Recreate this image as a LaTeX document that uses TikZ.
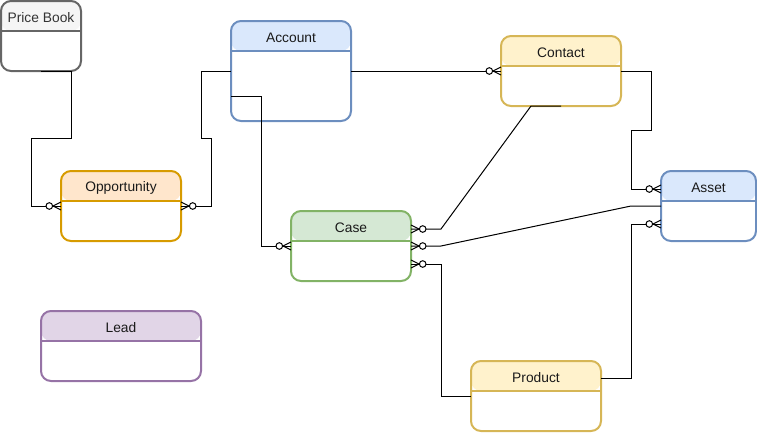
\documentclass[tikz,border=0pt]{standalone}
\usepackage{fontspec}
\setmainfont{Liberation Sans}
\usetikzlibrary{calc}

% entity colour schemes: header fill and outline
\definecolor{grayfill}{HTML}{F5F5F5}   \definecolor{grayline}{HTML}{666666}
\definecolor{orangefill}{HTML}{FFE6CC} \definecolor{orangeline}{HTML}{D79B00}
\definecolor{bluefill}{HTML}{DAE8FC}   \definecolor{blueline}{HTML}{6C8EBF}
\definecolor{yellowfill}{HTML}{FFF2CC} \definecolor{yellowline}{HTML}{D6B656}
\definecolor{greenfill}{HTML}{D5E8D4}  \definecolor{greenline}{HTML}{82B366}
\definecolor{purplefill}{HTML}{E1D5E7} \definecolor{purpleline}{HTML}{9673A6}
\definecolor{titletext}{HTML}{1A1A1A}
\definecolor{graytext}{HTML}{333333}

\tikzset{
  entity/.style={draw=#1line, fill=white, line width=2pt, rounded corners=10pt,
    inner sep=0pt, outer sep=0pt, anchor=north west,
    path picture={
      \fill[#1fill] (path picture bounding box.north west) rectangle
        ([yshift=-30pt]path picture bounding box.north east);
      \draw[#1line, line width=2pt]
        ([yshift=-30pt]path picture bounding box.north west) --
        ([yshift=-30pt]path picture bounding box.north east);
    }},
  etitle/.style={font=\fontsize{13.8pt}{16pt}\selectfont, text=titletext, inner sep=0pt},
  conn/.style={draw=black, line width=1pt},
  % zero-or-many crow's foot, the line arriving from the -x side
  zmany/.pic={
    \draw[line width=1pt] (-8,0) -- (0,4) (-8,0) -- (0,-4);
    \draw[line width=1pt, fill=white] (-11.7,0) circle (3.3);
  }
}

\begin{document}
\begin{tikzpicture}[x=1pt, y=-1pt]
\useasboundingbox (0,0) rectangle (757,432);

% entities
\node[entity=gray,   minimum width=80pt,  minimum height=70pt]  (pb)   at (1,1)     {};
\node[entity=orange, minimum width=120pt, minimum height=70pt]  (opp)  at (61,171)  {};
\node[entity=blue,   minimum width=120pt, minimum height=100pt] (acc)  at (231,21)  {};
\node[entity=yellow, minimum width=120pt, minimum height=70pt]  (con)  at (501,36)  {};
\node[entity=blue,   minimum width=95pt,  minimum height=70pt]  (ast)  at (661,171) {};
\node[entity=green,  minimum width=120pt, minimum height=70pt]  (case) at (291,211) {};
\node[entity=purple, minimum width=160pt, minimum height=70pt]  (lead) at (41,311)  {};
\node[entity=yellow, minimum width=130pt, minimum height=70pt]  (prod) at (471,361) {};

% entity titles
\node[etitle, text=graytext] (pb-t) at ([yshift=-16.5pt]pb.north) {Price Book};
\node[etitle] (opp-t)  at ([yshift=-16.5pt]opp.north)  {Opportunity};
\node[etitle] (acc-t)  at ([yshift=-16.5pt]acc.north)  {Account};
\node[etitle] (con-t)  at ([yshift=-16.5pt]con.north)  {Contact};
\node[etitle] (ast-t)  at ([yshift=-16.5pt]ast.north)  {Asset};
\node[etitle] (case-t) at ([yshift=-16.5pt]case.north) {Case};
\node[etitle] (lead-t) at ([yshift=-16.5pt]lead.north) {Lead};
\node[etitle] (prod-t) at ([yshift=-16.5pt]prod.north) {Product};

% side attachment points
\coordinate (acc-b)  at ($(acc.west)+(0,25)$);
\coordinate (case-a) at ($(case.east)+(0,-17)$);
\coordinate (case-c) at ($(case.east)+(0,18)$);
\coordinate (ast-a)  at ($(ast.west)+(0,-17)$);
\coordinate (ast-c)  at ($(ast.west)+(0,18)$);
\coordinate (prod-a) at ($(prod.east)+(0,-18)$);

% relationships
\draw[conn] (pb.south) -- ++(30,0) |- (31,138) |- (opp.west);
\draw[conn] (acc.west) -| (201,138) -| (211,206) -- (opp.east);
\draw[conn] (acc.east) -- (con.west);
\draw[conn] (acc-b) -- ++(30,0) |- (case.west);
\draw[conn] (con.south) -- ++(-30,0) -- (441,229) -- (case-a);
\draw[conn] (con.east) -| (651,130) -| (631,189) -- (ast-a);
\draw[conn] (case.east) -- ++(30,0) -- (631,206) -- (ast.west);
\draw[conn] (case-c) -| (441,396) -- (prod.west);
\draw[conn] (prod-a) -| (631,224) -- (ast-c);

% zero-or-many ends
\pic at (opp.west) {zmany};
\pic[rotate=180] at (opp.east) {zmany};
\pic at (con.west) {zmany};
\pic at (case.west) {zmany};
\pic[rotate=180] at (case-a) {zmany};
\pic at (ast-a) {zmany};
\pic[rotate=180] at (case.east) {zmany};
\pic[rotate=180] at (case-c) {zmany};
\pic at (ast-c) {zmany};
\end{tikzpicture}
\end{document}
